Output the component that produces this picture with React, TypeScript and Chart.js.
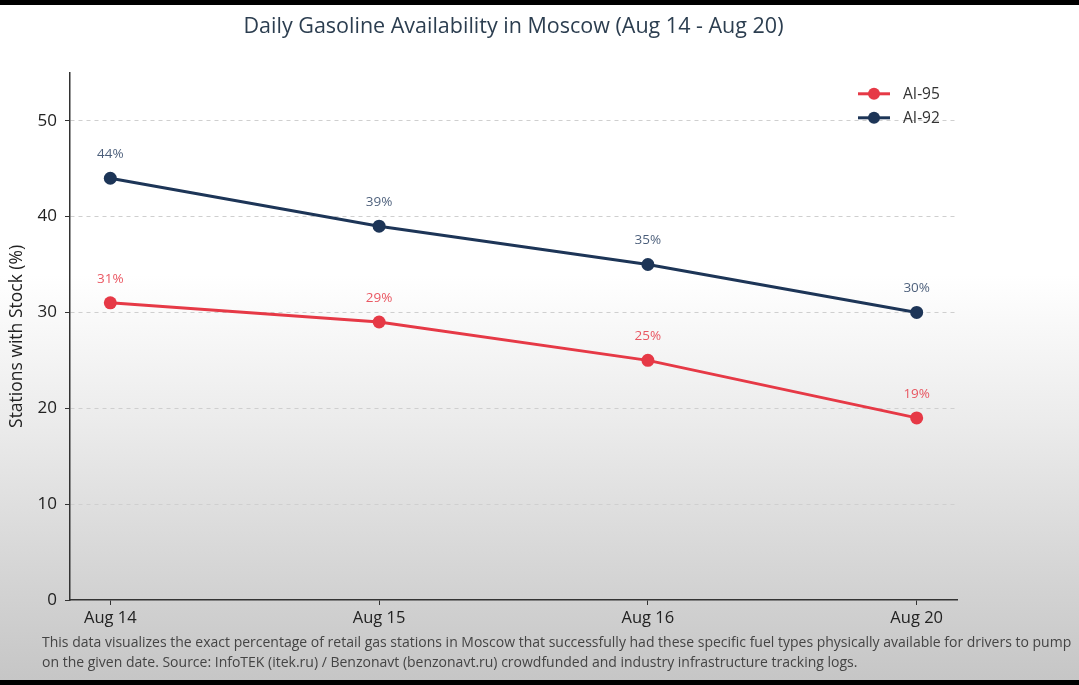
import { useEffect, useRef } from "react";
import { Chart, registerables } from "chart.js";

Chart.register(...registerables);

const dates = ["Aug 14", "Aug 15", "Aug 16", "Aug 20"];
const ai95 = [31, 29, 25, 19];
const ai92 = [44, 39, 35, 30];
const yTicks = [0, 10, 20, 30, 40, 50];

const RED = "#e63946";
const NAVY = "#1d3557";
const FONT = "'Open Sans', sans-serif";

// point labels above each marker ("44%")
const valueLabels = {
  id: "valueLabels",
  afterDatasetsDraw(chart: Chart) {
    const ctx = chart.ctx;
    ctx.save();
    ctx.font = `13.5px ${FONT}`;
    ctx.textAlign = "center";
    ctx.textBaseline = "middle";
    chart.data.datasets.forEach((ds: any, i) => {
      const meta = chart.getDatasetMeta(i);
      ctx.fillStyle = ds.labelColor;
      meta.data.forEach((pt: any, j) => {
        const v = (ds.data[j] as any).y;
        ctx.fillText(`${v}%`, pt.x, pt.y - 24);
      });
    });
    ctx.restore();
  },
};

// legend with line + marker, top right inside the plot
const lineLegend = {
  id: "lineLegend",
  afterDraw(chart: Chart) {
    const { ctx, chartArea } = chart;
    ctx.save();
    ctx.font = `15.5px ${FONT}`;
    ctx.textBaseline = "middle";
    chart.data.datasets.forEach((ds: any, i) => {
      const x = chartArea.right - 99;
      const y = chartArea.top + 21 + i * 24;
      ctx.strokeStyle = ds.borderColor;
      ctx.lineWidth = 3;
      ctx.beginPath();
      ctx.moveTo(x, y);
      ctx.lineTo(x + 32, y);
      ctx.stroke();
      ctx.fillStyle = ds.borderColor;
      ctx.beginPath();
      ctx.arc(x + 16, y, 6, 0, Math.PI * 2);
      ctx.fill();
      ctx.fillStyle = "#333";
      ctx.fillText(ds.label, x + 45, y + 1);
    });
    ctx.restore();
  },
};

export default function App() {
  const chartRef = useRef<HTMLCanvasElement>(null);
  const chartInstance = useRef<Chart | null>(null);

  useEffect(() => {
    if (!chartRef.current) return;
    if (chartInstance.current) chartInstance.current.destroy();
    const ctx = chartRef.current.getContext("2d");
    if (!ctx) return;

    chartInstance.current = new Chart(ctx, {
      type: "line",
      data: {
        datasets: [
          {
            label: "AI-95",
            data: ai95.map((v, i) => ({ x: i, y: v })),
            borderColor: RED,
            backgroundColor: RED,
            labelColor: "rgba(230, 57, 70, 0.85)",
            borderWidth: 3,
            pointRadius: 6.5,
            pointBorderWidth: 0,
            tension: 0,
          } as any,
          {
            label: "AI-92",
            data: ai92.map((v, i) => ({ x: i, y: v })),
            borderColor: NAVY,
            backgroundColor: NAVY,
            labelColor: "rgba(29, 53, 87, 0.8)",
            borderWidth: 3,
            pointRadius: 6.5,
            pointBorderWidth: 0,
            tension: 0,
          } as any,
        ],
      },
      options: {
        responsive: false,
        animation: false,
        layout: { padding: { left: 0, right: 122, top: 0, bottom: 0 } },
        plugins: {
          legend: { display: false },
          tooltip: { enabled: false },
          title: {
            display: true,
            text: "Daily Gasoline Availability in Moscow (Aug 14 - Aug 20)",
            fullSize: false,
            color: "#2c3e50",
            font: { family: FONT, size: 21.5, weight: "normal" },
            padding: { top: 9, bottom: 33 },
          },
        },
        scales: {
          x: {
            type: "linear",
            min: -0.15,
            max: 3.15,
            afterFit: (axis) => {
              axis.height = 35;
            },
            afterBuildTicks: (axis) => {
              axis.ticks = dates.map((_, i) => ({ value: i }));
            },
            ticks: {
              color: "#222",
              font: { family: FONT, size: 16.5 },
              padding: 3,
              maxRotation: 0,
              callback: (value) => dates[Number(value)] ?? "",
            },
            grid: {
              drawOnChartArea: false,
              drawTicks: true,
              tickLength: 5,
              tickColor: "#333",
            },
            border: { color: "#333", width: 1.5 },
          },
          y: {
            min: 0,
            max: 55,
            afterFit: (axis) => {
              axis.width = 70;
            },
            afterBuildTicks: (axis) => {
              axis.ticks = yTicks.map((v) => ({ value: v }));
            },
            ticks: {
              color: "#222",
              font: { family: FONT, size: 17 },
              padding: 8,
            },
            grid: {
              color: (c) => (c.tick && c.tick.value === 0 ? "transparent" : "#cfcfcf"),
              lineWidth: 1,
              tickLength: 5,
              tickColor: "#333",
            },
            border: { color: "#333", width: 1.5, dash: [4, 4] },
            title: {
              display: true,
              text: "Stations with Stock (%)",
              color: "#222",
              font: { family: FONT, size: 17.5 },
              padding: { top: 7, bottom: 0 },
            },
          },
        },
      },
      plugins: [valueLabels, lineLegend],
    });

    return () => {
      if (chartInstance.current) {
        chartInstance.current.destroy();
        chartInstance.current = null;
      }
    };
  }, []);

  return (
    <div style={{ position: "fixed", inset: 0, background: "#000", overflow: "hidden" }}>
      <div
        style={{
          position: "absolute",
          top: 5,
          left: 0,
          width: 1079,
          height: 675,
          background:
            "linear-gradient(to bottom, #ffffff 0px, #ffffff 270px, #ebebeb 420px, #d6d6d6 560px, #c6c6c6 675px)",
        }}
      >
        <canvas ref={chartRef} width={1079} height={630} style={{ display: "block" }} />
        <div
          style={{
            position: "absolute",
            left: 42,
            top: 627,
            fontFamily: FONT,
            fontSize: 14,
            lineHeight: "20px",
            color: "#444",
            whiteSpace: "nowrap",
          }}
        >
          This data visualizes the exact percentage of retail gas stations in Moscow that successfully had these specific fuel types physically available for drivers to pump
          <br />
          on the given date. Source: InfoTEK (itek.ru) / Benzonavt (benzonavt.ru) crowdfunded and industry infrastructure tracking logs.
        </div>
      </div>
    </div>
  );
}
